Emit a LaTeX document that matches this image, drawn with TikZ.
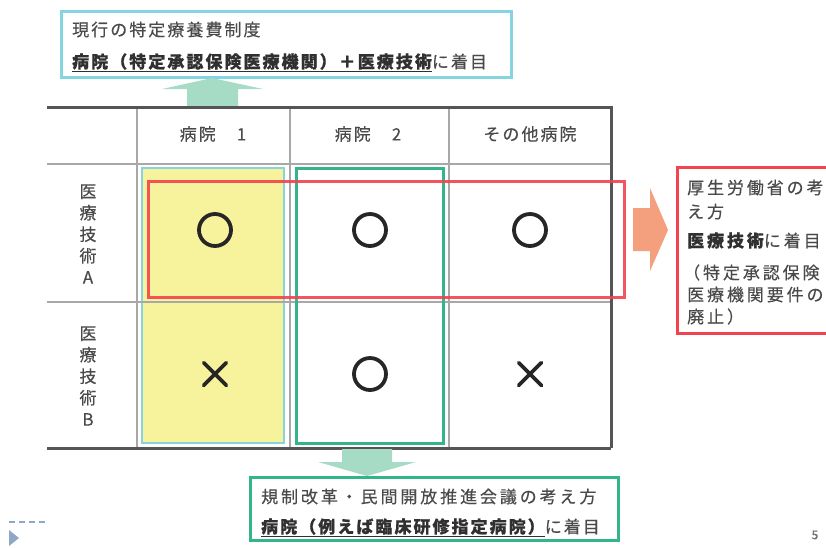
\documentclass[tikz,border=0pt]{standalone}
\usepackage{fontspec}
\newfontfamily\jp[LetterSpace=12,FakeBold=0.35]{Noto Sans CJK JP}
\newfontfamily\jpw[LetterSpace=17,FakeBold=0.35]{Noto Sans CJK JP}
\usetikzlibrary{shapes.misc}
\definecolor{txtgray}{HTML}{4A4A4A}
\definecolor{boldtxt}{HTML}{303030}
\definecolor{tablegray}{HTML}{A8A8A8}
\definecolor{tabledark}{HTML}{555555}
\definecolor{yellowfill}{HTML}{F7F29C}
\definecolor{cyanline}{HTML}{86D3E2}
\definecolor{greenline}{HTML}{33B58C}
\definecolor{redline}{HTML}{F2434F}
\definecolor{mint}{HTML}{A6DCC6}
\definecolor{salmon}{HTML}{F4A07E}
\definecolor{decoblue}{HTML}{8FA8C8}
\begin{document}
\begin{tikzpicture}[x=1pt,y=-1pt,
  txt/.style={font=\jp\fontsize{17}{20}\selectfont, text=txtgray, inner sep=0pt},
  wtxt/.style={font=\jpw\fontsize{17}{20}\selectfont, text=txtgray, inner sep=0pt},
  vlabel/.style={font=\jp\fontsize{17}{21.5}\selectfont, text=txtgray, inner sep=0pt, align=center},
  okmark/.style={circle, draw=black!85, line width=3.8pt, minimum size=32pt, inner sep=0pt},
  ngmark/.style={cross out, draw=black!85, line width=3.8pt, minimum size=19pt, inner sep=0pt, line cap=round},
  thinline/.style={draw=tablegray, line width=2pt},
  thickline/.style={draw=tabledark, line width=3pt}
]
\useasboundingbox (0,0) rectangle (826,547);
\begin{scope}
\clip (0,0) rectangle (826,547);

% ---------- top box ----------
\draw[cyanline, line width=3pt] (61,11) rectangle (511,77);
\node[txt, anchor=base west] (t1) at (72,36) {現行の特定療養費制度};
\node[txt, anchor=base west] (t2) at (72,68) {{\bfseries\color{boldtxt}\underline{病院（特定承認保険医療機関）＋医療技術}}に着目};

% up arrow
\fill[mint] (212,78) -- (263,89) -- (238,89) -- (238,106) -- (187,106) -- (187,89) -- (162,89) -- cycle;

% ---------- highlighted columns ----------
\filldraw[fill=yellowfill, draw=cyanline, line width=2.8pt] (142,168) rectangle (284,443);

% ---------- table ----------
\draw[thinline] (137,107) -- (137,448);
\draw[thinline] (290,107) -- (290,448);
\draw[thinline] (449,107) -- (449,448);
\draw[thinline] (47,164) -- (611,164);
\draw[thinline] (47,302) -- (611,302);
\draw[thickline] (47,107) -- (611,107) -- (611,448);
\draw[thickline] (47,448) -- (611,448);

% green column
\draw[greenline, line width=3pt] (296,168) rectangle (443,443);

% headers
\node[txt] (h1) at (213,134) {病院　1};
\node[txt] (h2) at (368,134) {病院　2};
\node[txt] (h3) at (530,134) {その他病院};

% row labels
\node[vlabel] (ra) at (88,234) {医\\療\\技\\術\\A};
\node[vlabel] (rb) at (88,376) {医\\療\\技\\術\\B};

% marks
\node[okmark] (a1) at (215,230) {};
\node[okmark] (a2) at (370,230) {};
\node[okmark] (a3) at (530,230) {};
\node[ngmark] (b1) at (215,374) {};
\node[okmark] (b2) at (370,374) {};
\node[ngmark] (b3) at (530,374) {};

% red box over row A
\draw[redline, line width=3pt, opacity=0.9] (148,181) rectangle (624,297);

% orange arrow
\fill[salmon] (633,208) -- (650,208) -- (650,188) -- (668,230) -- (650,271) -- (650,251) -- (633,251) -- cycle;

% ---------- right box ----------
\draw[redline, line width=3pt] (677,167) rectangle (850,333);
\node[wtxt, anchor=base west] (r1) at (687,194) {厚生労働省の考};
\node[wtxt, anchor=base west] (r2) at (687,218) {え方};
\node[wtxt, anchor=base west] (r3) at (687,247) {{\bfseries\color{boldtxt}医療技術}に着目};
\node[wtxt, anchor=base west] (r4) at (683,279) {（特定承認保険};
\node[wtxt, anchor=base west] (r5) at (687,301) {医療機関要件の};
\node[wtxt, anchor=base west] (r6) at (687,323) {廃止）};

% ---------- bottom arrow + box ----------
\fill[mint] (342,449) -- (392,449) -- (392,462) -- (416,462) -- (367,476) -- (318,462) -- (342,462) -- cycle;
\draw[greenline, line width=3pt] (250,477) rectangle (618,540);
\node[wtxt, anchor=base west] (u1) at (261,503) {規制改革・民間開放推進会議の考え方};
\node[txt, anchor=base west] (u2) at (261,533) {{\bfseries\color{boldtxt}\underline{病院（例えば臨床研修指定病院）}}に着目};

% ---------- slide decorations ----------
\draw[decoblue, line width=1.5pt, dash pattern=on 6pt off 4pt] (9,522) -- (46,522);
\fill[decoblue] (9,530) -- (19,538) -- (9,546) -- cycle;
\node[font=\jp\fontsize{12}{14}\selectfont, text=txtgray!80] (pg) at (815,535) {5};
\end{scope}
\end{tikzpicture}
\end{document}
